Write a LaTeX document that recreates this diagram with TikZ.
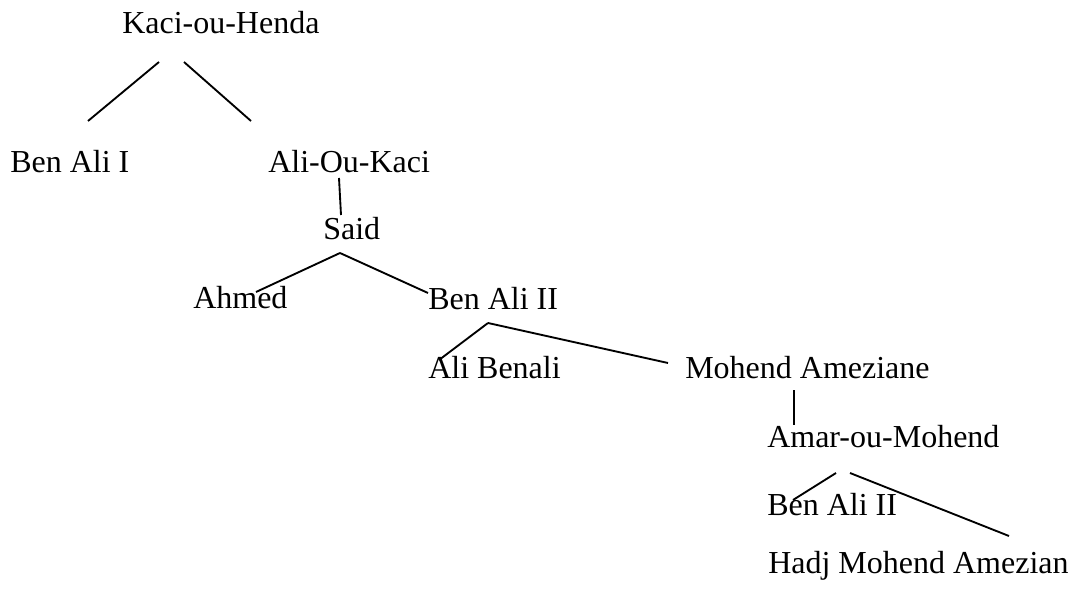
\documentclass[tikz,border=0pt]{standalone}
\usepackage{fontspec}
\setmainfont{Liberation Serif}
\begin{document}
\begin{tikzpicture}[x=0.75pt,y=-0.75pt,
    person/.style={anchor=base west,inner sep=0pt,font=\fontsize{24}{28}\selectfont},
    link/.style={line width=1.4pt}]

    \useasboundingbox (0,0) rectangle (1076,592);

    % People
    \node[person] (kaci) at (122,34) {Kaci-ou-Henda};
    \node[person] (benali1) at (10,172) {Ben Ali I};
    \node[person] (aliou) at (268,172) {Ali-Ou-Kaci};
    \node[person] (said) at (323,239) {Said};
    \node[person] (ahmed) at (193,308) {Ahmed};
    \node[person] (benali2) at (428,309) {Ben Ali II};
    \node[person] (alibenali) at (428,378) {Ali Benali};
    \node[person] (mohend) at (685,378) {Mohend Ameziane};
    \node[person] (amar) at (767,447) {Amar-ou-Mohend};
    \node[person] (benali3) at (767,515) {Ben Ali II};
    \node[person] (hadj) at (768,573) {Hadj Mohend Amezian};

    % Line ends
    \coordinate (kaci-l) at (159,62);
    \coordinate (kaci-r) at (184,62);
    \coordinate (benali1-t) at (88,121);
    \coordinate (aliou-t) at (251,121);
    \coordinate (aliou-b) at (339,178);
    \coordinate (said-t) at (341,215);
    \coordinate (said-b) at (340,253);
    \coordinate (ahmed-t) at (256,292);
    \coordinate (benali2-t) at (428,293);
    \coordinate (benali2-b) at (488,323);
    \coordinate (alibenali-t) at (439,360);
    \coordinate (mohend-t) at (668,363);
    \coordinate (mohend-b) at (794,390);
    \coordinate (amar-t) at (794,425);
    \coordinate (amar-l) at (836,473);
    \coordinate (amar-r) at (850,473);
    \coordinate (benali3-t) at (793,500);
    \coordinate (hadj-t) at (1009,536);

    % Family lines
    \draw[link] (kaci-l) -- (benali1-t);
    \draw[link] (kaci-r) -- (aliou-t);
    \draw[link] (aliou-b) -- (said-t);
    \draw[link] (said-b) -- (ahmed-t);
    \draw[link] (said-b) -- (benali2-t);
    \draw[link] (benali2-b) -- (alibenali-t);
    \draw[link] (benali2-b) -- (mohend-t);
    \draw[link] (mohend-b) -- (amar-t);
    \draw[link] (amar-l) -- (benali3-t);
    \draw[link] (amar-r) -- (hadj-t);

\end{tikzpicture}
\end{document}
